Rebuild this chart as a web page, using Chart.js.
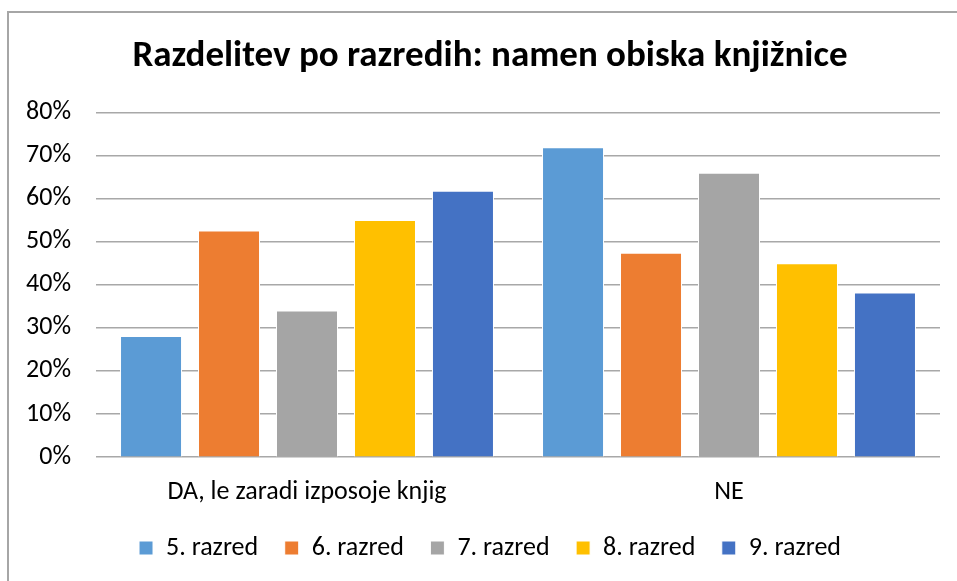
<!DOCTYPE html>
<html><head><meta charset="utf-8">
<script src="https://cdn.jsdelivr.net/npm/chart.js@4.4.1/dist/chart.umd.min.js"></script>
<style>
html,body{margin:0;padding:0;background:#fff;width:957px;height:581px;overflow:hidden}
#frame{position:absolute;left:7px;top:11px;width:2000px;height:2000px;border-left:2px solid #a6a6a6;border-top:2px solid #a6a6a6}
#wrap{position:absolute;left:0;top:0;width:957px;height:581px}
</style></head>
<body>
<div id="frame"></div>
<div id="wrap"><canvas id="c" width="957" height="581"></canvas></div>
<script>
const categories = ['DA, le zaradi izposoje knjig', 'NE'];
const seriesNames = ['5. razred', '6. razred', '7. razred', '8. razred', '9. razred'];
const razred5 = [28.1, 71.9];
const razred6 = [52.6, 47.4];
const razred7 = [34.0, 66.0];
const razred8 = [55.0, 45.0];
const razred9 = [61.8, 38.2];
const yTickValues = [0, 10, 20, 30, 40, 50, 60, 70, 80];
const colors = ['#5B9BD5', '#ED7D31', '#A5A5A5', '#FFC000', '#4472C4'];
const titleText = 'Razdelitev po razredih: namen obiska knjižnice';

const FONT = "'Carlito', 'Lato', 'Liberation Sans', sans-serif";
const dataSeries = [razred5, razred6, razred7, razred8, razred9];

new Chart(document.getElementById('c'), {
  type: 'bar',
  data: {
    labels: categories,
    datasets: seriesNames.map((n, i) => ({
      label: n,
      data: dataSeries[i],
      backgroundColor: colors[i],
      borderColor: '#ffffff',
      borderWidth: 1,
      categoryPercentage: 0.924,
      barPercentage: 0.795
    }))
  },
  options: {
    responsive: false,
    devicePixelRatio: 1,
    animation: false,
    layout: { padding: { left: 26, right: 3, top: 0, bottom: 10 } },
    plugins: {
      title: {
        display: true, text: titleText, color: '#000',
        font: { family: FONT, size: 37, weight: 'bold' },
        padding: { top: 34.5, bottom: 33.4 }
      },
      legend: {
        position: 'bottom',
        labels: { color: '#000', font: { family: FONT, size: 26 }, boxWidth: 14, boxHeight: 14, padding: 26.5 }
      },
      tooltip: { enabled: false }
    },
    scales: {
      x: {
        grid: { display: false, drawTicks: false },
        border: { display: false },
        ticks: { color: '#000', font: { family: FONT, size: 26 }, padding: 19.2 },
        afterFit: s => { s.height = 51.3; }
      },
      y: {
        min: 0, max: 80,
        afterBuildTicks: s => { s.ticks = yTickValues.map(v => ({ value: v })); },
        grid: { color: '#a8a8a8', lineWidth: 1.5, drawTicks: false },
        border: { display: false },
        ticks: { color: '#000', font: { family: FONT, size: 26 }, padding: 25, callback: v => v + '%' },
        afterFit: s => { s.width = 70; }
      },
      yRightSpacer: {
        position: 'right',
        min: 0, max: 80,
        grid: { display: false, drawTicks: false },
        border: { display: false },
        ticks: { display: false },
        afterFit: s => { s.width = 14; }
      }
    }
  }
});
</script>
</body></html>
